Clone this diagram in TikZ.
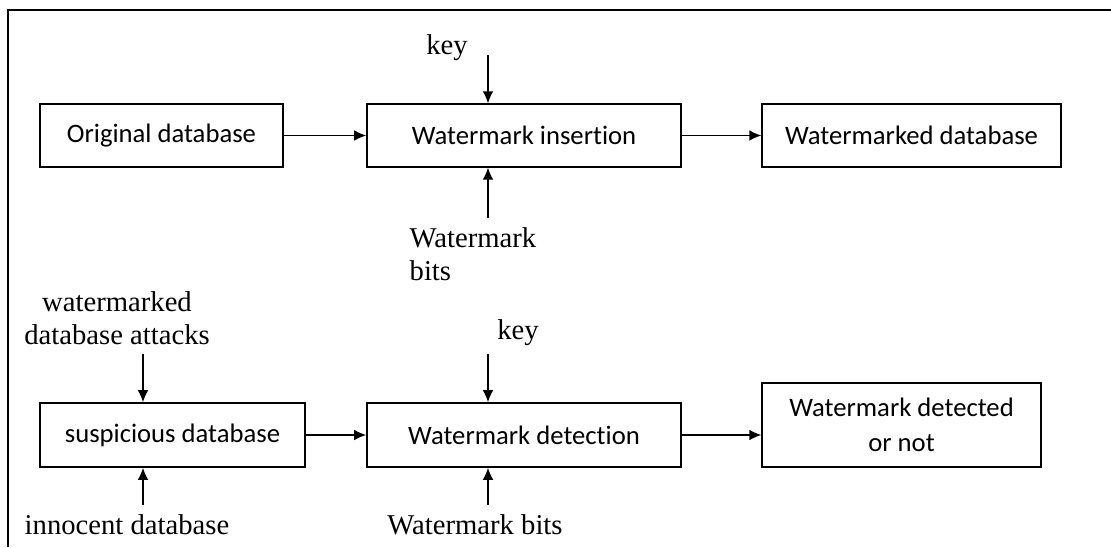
\documentclass[tikz,border=0pt]{standalone}
\usepackage{fontspec}
\setmainfont{Liberation Serif}
\newfontfamily\boxfont[Ligatures=NoCommon]{Carlito}
\usepackage{xcolor}
\usepackage{tikz}
\usetikzlibrary{arrows.meta}

\begin{document}
\begin{tikzpicture}[->,>={Latex[length=9pt,width=8pt]},x=0.75pt,y=-0.75pt,line width=1pt]
		\tikzstyle{block}=[draw,-,line width=1.2pt,align=center,inner sep=2pt,
			font=\boxfont\fontsize{20}{26}\selectfont]
		\tikzstyle{label}=[align=center,inner sep=0pt,
			font=\fontsize{21.5}{25}\selectfont]
		
		\useasboundingbox (0,0) rectangle (1111,547);
		\draw[-,line width=1.2pt] (8,547) -- (8,10) -- (1111,10);
		
		% insertion
		\node[block] (orig) at (161.5,135.5) [minimum width=182pt, minimum height=47pt] {Original database};
		\node[block] (ins)  at (524,135.5)   [minimum width=235.5pt, minimum height=47pt] {Watermark insertion};
		\node[block] (wdb)  at (911.5,135.5) [minimum width=224pt, minimum height=47pt] {Watermarked database};
		
		\node[label] (keyA)  at (447,48) {key};
		\node[label,align=left,anchor=west] (bitsA) at (409,254) {Watermark\\bits};
		\coordinate (keyAs)  at (488,55);
		\coordinate (bitsAs) at (488,218);
		
		% detection
		\node[block] (susp) at (172.5,435) [minimum width=199pt, minimum height=48pt] {suspicious database};
		\node[block] (det)  at (524,435)   [minimum width=235.5pt, minimum height=48pt] {Watermark detection};
		\node[block] (res)  at (901.5,425) [minimum width=209pt, minimum height=63pt] {Watermark detected\\or not};
		
		\node[label] (attack) at (117,318) {watermarked\\database attacks};
		\node[label] (innoc)  at (127,525) {innocent database};
		\node[label] (keyB)   at (518,333) {key};
		\node[label] (bitsB)  at (475,525) {Watermark bits};
		\coordinate (attacks) at (143,354);
		\coordinate (innocs)  at (143,505);
		\coordinate (keyBs)   at (488,354);
		\coordinate (bitsBs)  at (488,505);
		
		\path
		(orig) edge (ins)
		(ins)  edge (wdb)
		(keyAs)  edge (keyAs |- ins.north)
		(bitsAs) edge (bitsAs |- ins.south)
		(susp) edge (det)
		(det.east) edge (det.east -| res.west)
		(attacks) edge (attacks |- susp.north)
		(innocs)  edge (innocs |- susp.south)
		(keyBs)   edge (keyBs |- det.north)
		(bitsBs)  edge (bitsBs |- det.south);
		
\end{tikzpicture}
\end{document}
